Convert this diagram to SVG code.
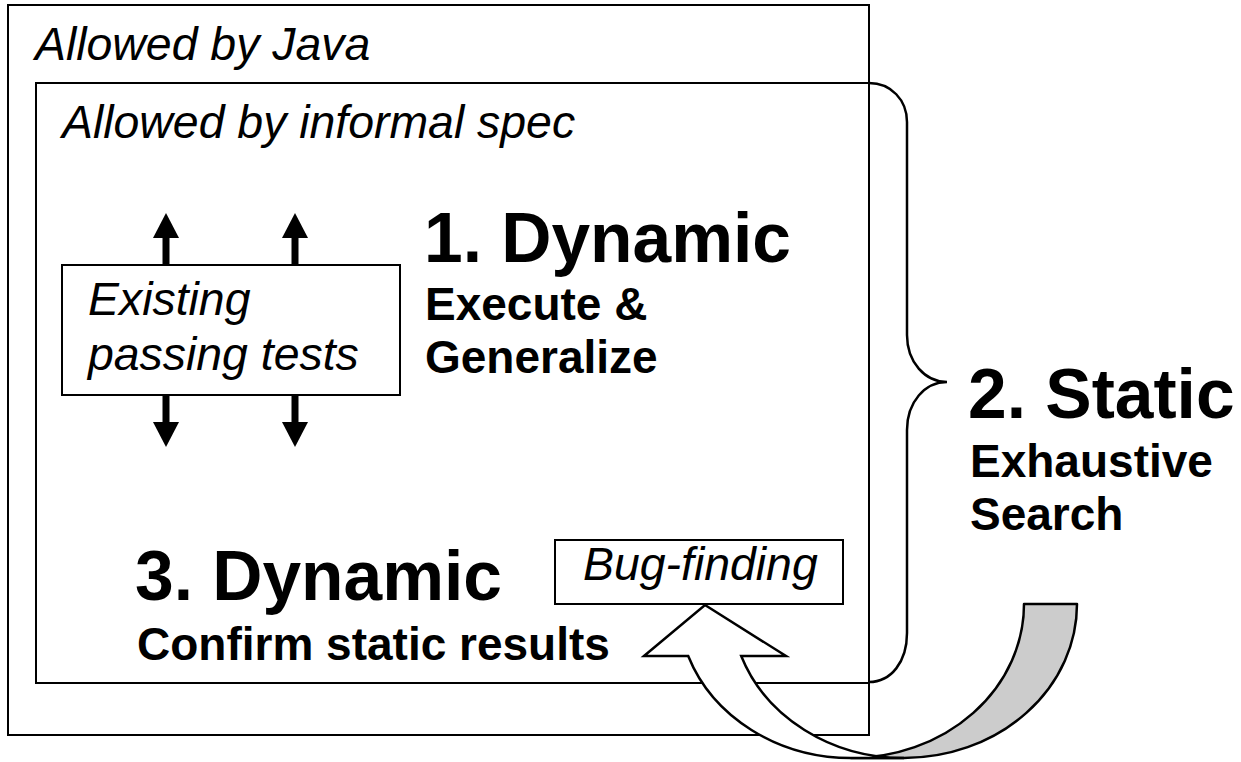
<svg xmlns="http://www.w3.org/2000/svg" width="1241" height="762" viewBox="0 0 1241 762">
<style>
.box{fill:none;stroke:#000;stroke-width:2}
.wbox{fill:#fff;stroke:#000;stroke-width:2}
.it{font-family:"Liberation Sans",Arial,sans-serif;font-style:italic;font-size:46.4px;fill:#000}
.big{font-family:"Liberation Sans",Arial,sans-serif;font-weight:bold;font-size:69.5px;fill:#000}
.sub{font-family:"Liberation Sans",Arial,sans-serif;font-weight:bold;font-size:46px;fill:#000}
.shaft{stroke:#000;stroke-width:7;fill:none}
</style>
<defs>
<marker id="head" markerUnits="userSpaceOnUse" markerWidth="25" markerHeight="26" refX="0" refY="13" orient="auto">
<path d="M0,0 L25,13 L0,26 Z" fill="#000"/>
</marker>
</defs>
<rect width="1241" height="762" fill="#fff"/>
<g id="java">
<rect class="box" x="8" y="5" width="861" height="730"/>
<text class="it" x="35" y="60">Allowed by Java</text>
</g>
<g id="spec">
<rect class="box" x="36" y="83" width="833" height="600"/>
<text class="it" x="62" y="138">Allowed by informal spec</text>
</g>
<g id="tests">
<rect class="wbox" x="62" y="265" width="338" height="130"/>
<text class="it" x="88" y="315">Existing</text>
<text class="it" x="88" y="370">passing tests</text>
</g>
<g id="dynamic1">
<text class="big" x="424" y="262">1. Dynamic</text>
<text class="sub" x="425" y="320">Execute &amp;</text>
<text class="sub" x="425" y="373">Generalize</text>
</g>
<g id="static2">
<text class="big" x="968" y="418">2. Static</text>
<text class="sub" x="970" y="477">Exhaustive</text>
<text class="sub" x="970" y="530">Search</text>
</g>
<g id="dynamic3">
<text class="big" x="135" y="600">3. Dynamic</text>
<text class="sub" x="137" y="660">Confirm static results</text>
</g>
<g id="bugfinding">
<rect class="wbox" x="555" y="540" width="288" height="64"/>
<text class="it" x="583" y="580">Bug-finding</text>
</g>
<g id="connectors">
<line class="shaft" x1="166" y1="265" x2="166" y2="238" marker-end="url(#head)"/>
<line class="shaft" x1="295" y1="265" x2="295" y2="238" marker-end="url(#head)"/>
<line class="shaft" x1="166" y1="395" x2="166" y2="422" marker-end="url(#head)"/>
<line class="shaft" x1="295" y1="395" x2="295" y2="422" marker-end="url(#head)"/>
<path d="M869,83 C891,83 907,100 907,122 L907,335 C907,362 925,382 947,382 C925,382 907,402 907,430 L907,633 C907,662 891,682 869,682" fill="none" stroke="#000" stroke-width="2.5"/>
<path d="M1077,604 A173 154 0 0 1 904,758 L851,758 A173 154 0 0 0 1024,604 Z" fill="#cccccc" stroke="#000" stroke-width="2.5" stroke-linejoin="round"/>
<path d="M644,656 L705,605 L786,656 L741.2,656 A173 154 0 0 0 904,758 L851,758 A173 154 0 0 1 688.2,656 Z" fill="#fff" stroke="#000" stroke-width="2.5" stroke-linejoin="miter"/>
</g>
</svg>
